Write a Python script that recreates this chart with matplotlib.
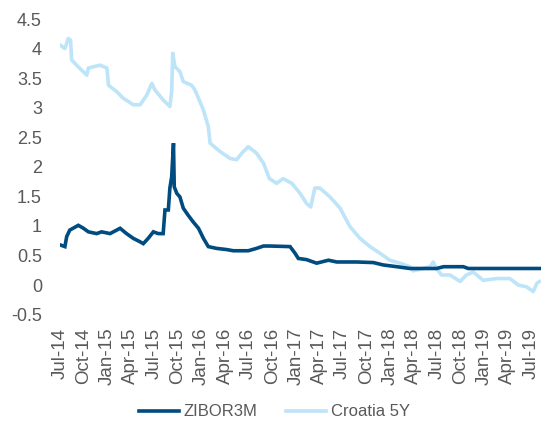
import matplotlib
matplotlib.use("Agg")
import matplotlib.pyplot as plt
import pandas as pd

plt.rcParams['font.family'] = ['Liberation Sans', 'DejaVu Sans']

# ---- data ----
croatia_dates = [
    "2014-07-01", "2014-07-20", "2014-08-02", "2014-08-11", "2014-08-15", "2014-09-10",
    "2014-10-13", "2014-10-19", "2014-12-03", "2014-12-30", "2015-01-05", "2015-02-06",
    "2015-03-03", "2015-04-11", "2015-05-08", "2015-06-02", "2015-06-22", "2015-07-04",
    "2015-08-05", "2015-08-31", "2015-09-07", "2015-09-11", "2015-09-20", "2015-10-09",
    "2015-10-22", "2015-11-23", "2015-12-06", "2015-12-20", "2016-01-08", "2016-01-27",
    "2016-02-03", "2016-03-12", "2016-04-21", "2016-05-16", "2016-06-05", "2016-06-30",
    "2016-08-01", "2016-08-28", "2016-09-20", "2016-10-18", "2016-11-12", "2016-12-16",
    "2017-01-17", "2017-02-11", "2017-02-27", "2017-03-15", "2017-04-04", "2017-05-13",
    "2017-06-21", "2017-07-29", "2017-09-06", "2017-10-15", "2017-11-22", "2017-12-31",
    "2018-02-08", "2018-03-19", "2018-03-31", "2018-05-10", "2018-06-05", "2018-06-17",
    "2018-06-30", "2018-07-19", "2018-08-21", "2018-09-29", "2018-10-24", "2018-11-19",
    "2018-12-28", "2019-02-18", "2019-04-10", "2019-05-13", "2019-06-14", "2019-07-10",
    "2019-07-24", "2019-08-03",
]
croatia_5y = [
    4.06, 4.00, 4.17, 4.14, 3.81, 3.69,
    3.55, 3.67, 3.72, 3.67, 3.38, 3.27,
    3.16, 3.05, 3.05, 3.21, 3.41, 3.30,
    3.13, 3.02, 3.27, 3.92, 3.69, 3.61,
    3.44, 3.38, 3.30, 3.16, 2.96, 2.68,
    2.40, 2.26, 2.14, 2.12, 2.23, 2.34,
    2.23, 2.06, 1.80, 1.72, 1.80, 1.72,
    1.55, 1.38, 1.32, 1.64, 1.64, 1.49,
    1.30, 0.99, 0.79, 0.65, 0.54, 0.42,
    0.37, 0.31, 0.24, 0.28, 0.31, 0.39,
    0.28, 0.17, 0.17, 0.06, 0.17, 0.22,
    0.08, 0.11, 0.11, 0.00, -0.03, -0.11,
    0.03, 0.06,
]

zibor_dates = [
    "2014-07-01", "2014-07-20", "2014-07-27", "2014-08-08", "2014-09-10", "2014-09-30",
    "2014-10-19", "2014-11-20", "2014-12-09", "2015-01-11", "2015-02-06", "2015-02-19",
    "2015-03-16", "2015-04-11", "2015-05-08", "2015-05-20", "2015-06-08", "2015-06-28",
    "2015-07-17", "2015-08-05", "2015-08-12", "2015-08-25", "2015-08-31", "2015-09-07",
    "2015-09-14", "2015-09-17", "2015-09-27", "2015-10-09", "2015-10-22", "2015-11-10",
    "2015-11-29", "2015-12-20", "2016-01-08", "2016-01-27", "2016-02-28", "2016-04-07",
    "2016-05-03", "2016-06-30", "2016-08-01", "2016-08-28", "2016-09-22", "2016-12-09",
    "2016-12-28", "2017-01-10", "2017-02-11", "2017-03-22", "2017-05-07", "2017-06-08",
    "2017-08-25", "2017-10-28", "2017-12-05", "2018-01-27", "2018-03-19", "2018-05-10",
    "2018-06-30", "2018-07-27", "2018-10-12", "2018-10-31", "2019-08-03",
]
zibor3m = [
    0.68, 0.65, 0.82, 0.93, 1.01, 0.96,
    0.90, 0.87, 0.90, 0.87, 0.93, 0.96,
    0.87, 0.79, 0.73, 0.70, 0.79, 0.90,
    0.87, 0.87, 1.27, 1.27, 1.64, 1.83,
    2.40, 1.66, 1.55, 1.49, 1.30, 1.18,
    1.07, 0.96, 0.79, 0.65, 0.62, 0.60,
    0.58, 0.58, 0.62, 0.66, 0.66, 0.65,
    0.54, 0.45, 0.43, 0.37, 0.42, 0.39,
    0.39, 0.38, 0.34, 0.31, 0.28, 0.28,
    0.28, 0.31, 0.31, 0.28, 0.28,
]

tick_dates = ["2014-07-01", "2014-10-01", "2015-01-01", "2015-04-01", "2015-07-01",
              "2015-10-01", "2016-01-01", "2016-04-01", "2016-07-01", "2016-10-01",
              "2017-01-01", "2017-04-01", "2017-07-01", "2017-10-01", "2018-01-01",
              "2018-04-01", "2018-07-01", "2018-10-01", "2019-01-01", "2019-04-01",
              "2019-07-01"]
tick_labels = ["Jul-14", "Oct-14", "Jan-15", "Apr-15", "Jul-15", "Oct-15", "Jan-16",
               "Apr-16", "Jul-16", "Oct-16", "Jan-17", "Apr-17", "Jul-17", "Oct-17",
               "Jan-18", "Apr-18", "Jul-18", "Oct-18", "Jan-19", "Apr-19", "Jul-19"]
y_ticks = [-0.5, 0, 0.5, 1, 1.5, 2, 2.5, 3, 3.5, 4, 4.5]

# ---- plot ----
fig = plt.figure(figsize=(5.41, 4.26), dpi=100)
ax = fig.add_axes([60 / 541, 1 - 314.6 / 426, 481 / 541, (314.6 - 19) / 426])

c_dark = "#004B7F"
c_light = "#BDE4F9"
ax.plot(pd.to_datetime(zibor_dates), zibor3m, color=c_dark, lw=2.6, label="ZIBOR3M",
        zorder=3, solid_joinstyle="miter")
ax.plot(pd.to_datetime(croatia_dates), croatia_5y, color=c_light, lw=2.6,
        label="Croatia 5Y", zorder=2)

ax.set_xlim(pd.Timestamp("2014-07-01"), pd.Timestamp("2019-08-09"))
ax.set_ylim(-0.5, 4.5)
ax.set_yticks(y_ticks)
ax.set_yticklabels([("%g" % v) for v in y_ticks])
ax.set_xticks(pd.to_datetime(tick_dates))
ax.set_xticklabels(tick_labels, rotation=90)

for s in ax.spines.values():
    s.set_visible(False)
ax.tick_params(axis="both", length=0, colors="#595959")
ax.tick_params(axis="y", pad=13, labelsize=13)
ax.tick_params(axis="x", pad=9.5, labelsize=13.5)

leg = fig.legend(loc="center", bbox_to_anchor=(0.507, 0.033), ncol=2, frameon=False,
                 fontsize=12, handlelength=2.4, handletextpad=0.3, columnspacing=1.7)
for t in leg.get_texts():
    t.set_color("#595959")
for h in leg.get_lines():
    h.set_linewidth(2.6)

fig.savefig("out.png", dpi=100)
